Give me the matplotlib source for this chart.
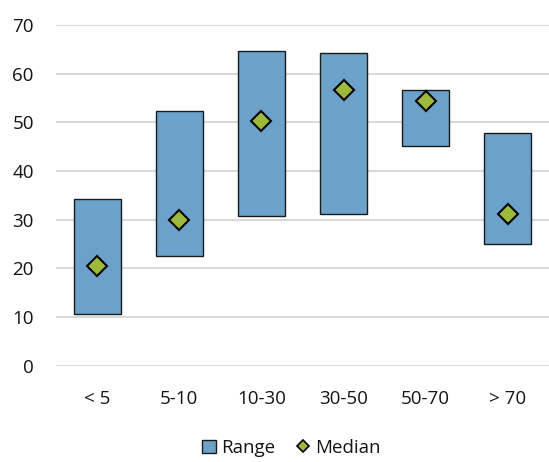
import matplotlib
matplotlib.use("Agg")
import matplotlib.pyplot as plt
from matplotlib.patches import Patch
from matplotlib.lines import Line2D

plt.rcParams['font.family'] = ['Open Sans', 'DejaVu Sans']

categories = ["< 5", "5-10", "10-30", "30-50", "50-70", "> 70"]
range_low = [10.7, 22.6, 30.8, 31.2, 45.2, 25.1]
range_high = [34.3, 52.3, 64.7, 64.3, 56.6, 47.8]
median = [20.5, 30.0, 50.3, 56.6, 54.4, 31.1]
y_ticks = [0, 10, 20, 30, 40, 50, 60, 70]

bar_color = "#6CA2CA"
median_color = "#9DBB3B"
edge_color = "#1A1A1A"
grid_color = "#D9D9D9"
text_color = "#141414"
font_size = 13.5

fig = plt.figure(figsize=(5.49, 4.62), dpi=100)
ax = fig.add_axes([56 / 549, 1 - 365.7 / 462, 493 / 549, (365.7 - 25) / 462])

x = list(range(len(categories)))
heights = [h - l for h, l in zip(range_high, range_low)]
ax.bar(x, heights, bottom=range_low, width=0.57, color=bar_color,
       edgecolor=edge_color, linewidth=1.0, zorder=3)
ax.plot(x, median, linestyle="none", marker="D", markersize=10,
        markerfacecolor=median_color, markeredgecolor="black",
        markeredgewidth=1.5, zorder=4)

ax.set_xlim(-0.5, len(categories) - 0.5)
ax.set_ylim(0, 70)
ax.set_yticks(y_ticks)
ax.set_xticks(x)
ax.set_xticklabels(categories)
ax.yaxis.grid(True, color=grid_color, linewidth=1.5, zorder=0)
ax.set_axisbelow(True)
for s in ax.spines.values():
    s.set_visible(False)
ax.tick_params(axis="both", length=0, labelsize=font_size, colors=text_color)
ax.tick_params(axis="y", pad=16)
ax.tick_params(axis="x", pad=17.5)

handles = [
    Patch(facecolor=bar_color, edgecolor=edge_color, linewidth=1.0, label="Range"),
    Line2D([], [], linestyle="none", marker="D", markersize=6.5,
           markerfacecolor=median_color, markeredgecolor="black",
           markeredgewidth=1.2, label="Median"),
]
fig.legend(handles=handles, loc="center", bbox_to_anchor=(291.5 / 549, 1 - 448 / 462),
           ncol=2, frameon=False, fontsize=font_size, handlelength=0.75,
           handleheight=0.75, handletextpad=0.27, columnspacing=1.1,
           labelcolor=text_color)

fig.savefig("out.png", dpi=100)
